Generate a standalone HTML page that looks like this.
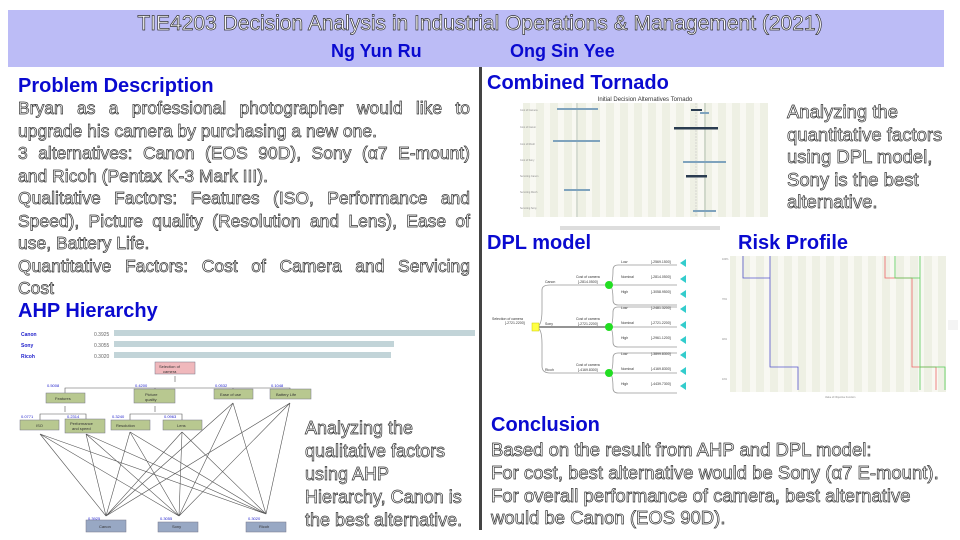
<!DOCTYPE html>
<html><head><meta charset="utf-8"><style>
body{margin:0;width:960px;height:540px;background:#fff;position:relative;overflow:hidden;font-family:"Liberation Sans",sans-serif}
.a{position:absolute;white-space:nowrap}
.h{color:#0a0ad0;font-weight:bold;font-size:20px}
.o{color:#fff;-webkit-text-stroke:0.7px #333;}
.b{font-size:18px;line-height:22.5px}
.j{text-align:justify;text-align-last:justify;white-space:nowrap;overflow:visible}
</style></head><body>
<div class="a" style="left:8px;top:10px;width:936px;height:57px;background:#bcbcf6"></div>
<div class="a o" style="left:0;width:960px;text-align:center;top:12px;font-size:21px">TIE4203 Decision Analysis in Industrial Operations &amp; Management (2021)</div>
<div class="a" style="left:331px;top:41px;font-size:18px;font-weight:bold;color:#0a0ad0">Ng Yun Ru</div>
<div class="a" style="left:510px;top:41px;font-size:18px;font-weight:bold;color:#0a0ad0">Ong Sin Yee</div>
<div class="a" style="left:479px;top:67px;width:3px;height:463px;background:#444"></div>

<div class="a h" style="left:18px;top:75px">Problem Description</div>
<div class="a o b" style="left:18px;top:97px;width:452px;font-size:17.5px">
<div class="j">Bryan as a professional photographer would like to</div>
<div>upgrade his camera by purchasing a new one.</div>
<div class="j">3 alternatives: Canon (EOS 90D), Sony (α7 E-mount)</div>
<div>and Ricoh (Pentax K-3 Mark III).</div>
<div class="j">Qualitative Factors: Features (ISO, Performance and</div>
<div class="j">Speed), Picture quality (Resolution and Lens), Ease of</div>
<div>use, Battery Life.</div>
<div class="j">Quantitative Factors: Cost of Camera and Servicing</div>
<div>Cost</div>
</div>

<div class="a h" style="left:18px;top:300px">AHP Hierarchy</div>
<svg class="a" style="left:0;top:320px" width="480" height="220" font-family="Liberation Sans" font-size="5">
<text x="21" y="16" fill="#22c" font-weight="bold">Canon</text><text x="21" y="27" fill="#22c" font-weight="bold">Sony</text><text x="21" y="38" fill="#22c" font-weight="bold">Ricoh</text>
<text x="94" y="16" fill="#666">0.3925</text><text x="94" y="27" fill="#666">0.3055</text><text x="94" y="38" fill="#666">0.3020</text>
<rect x="114" y="10" width="361" height="6" fill="#c2d4d8"/><rect x="114" y="21" width="280" height="6" fill="#c2d4d8"/><rect x="114" y="32" width="277" height="6" fill="#c2d4d8"/>
<g stroke="#555" stroke-width="0.6" fill="none">
<path d="M175 56 L175 62 M65 73 L65 68 L290 68 L290 69 M155 69 L155 68 M233 69 L233 68 M65 68 L65 69"/>
<path d="M65 86 L65 92 M40 100 L40 94 L86 94 L86 99 M155 86 L155 92 M130 100 L130 94 L182 94 L182 100"/>
<path d="M40 114 L106 196 M40 114 L179 196 M40 114 L266 194 M86 114 L106 196 M86 114 L179 196 M86 114 L266 194 M130 112 L106 196 M130 112 L179 196 M130 112 L266 194 M182 112 L106 196 M182 112 L179 196 M182 112 L266 194 M233 83 L106 196 M233 83 L179 196 M233 83 L266 194 M290 83 L106 196 M290 83 L179 196 M290 83 L266 194"/>
</g>
<g stroke="#778" stroke-width="0.5">
<rect x="155" y="42" width="40" height="12" fill="#f0b8bc"/>
<rect x="46" y="73" width="39" height="10" fill="#b8c890"/><rect x="134" y="69" width="41" height="14" fill="#b8c890"/><rect x="214" y="69" width="39" height="10" fill="#b8c890"/><rect x="270" y="69" width="41" height="10" fill="#b8c890"/>
<rect x="20" y="100" width="39" height="10" fill="#b8c890"/><rect x="65" y="99" width="40" height="14" fill="#b8c890"/><rect x="111" y="100" width="39" height="10" fill="#b8c890"/><rect x="163" y="100" width="39" height="10" fill="#b8c890"/>
<rect x="86" y="200" width="40" height="12" fill="#98a8c4"/><rect x="158" y="202" width="40" height="10" fill="#98a8c4"/><rect x="246" y="202" width="40" height="10" fill="#98a8c4"/>
</g>
<g fill="#333" font-size="4"><text x="159" y="48">Selection of</text><text x="163" y="53">camera</text><text x="55" y="80">Features</text><text x="145" y="76">Picture</text><text x="145" y="81">quality</text><text x="220" y="76">Ease of use</text><text x="276" y="76">Battery Life</text><text x="36" y="107">ISO</text><text x="70" y="105">Performance</text><text x="72" y="110">and speed</text><text x="116" y="107">Resolution</text><text x="177" y="107">Lens</text><text x="99" y="208">Canon</text><text x="172" y="208">Sony</text><text x="259" y="208">Ricoh</text></g>
<g fill="#22c" font-size="4"><text x="47" y="67">0.5008</text><text x="135" y="67">0.4200</text><text x="215" y="67">0.0532</text><text x="271" y="67">0.1048</text><text x="21" y="98">0.0771</text><text x="67" y="98">0.2314</text><text x="112" y="98">0.3240</text><text x="164" y="98">0.0963</text><text x="88" y="200">0.3925</text><text x="160" y="200">0.3055</text><text x="248" y="200">0.3020</text></g>
</svg>
<div class="a o b" style="left:305px;top:417px;font-size:18px;line-height:23px">Analyzing the<br>qualitative factors<br>using AHP<br>Hierarchy, Canon is<br>the best alternative.</div>

<div class="a h" style="left:487px;top:72px">Combined Tornado</div>
<svg class="a" style="left:520px;top:95px" width="250" height="140" font-family="Liberation Sans">
<text x="125" y="6" font-size="6" text-anchor="middle" fill="#333">Initial Decision Alternatives Tornado</text>
<rect x="3" y="8" width="245" height="114" fill="#eef0e4"/>
<g fill="#f8f8f2"><rect x="10" y="8" width="6" height="114"/><rect x="24" y="8" width="6" height="114"/><rect x="38" y="8" width="6" height="114"/><rect x="52" y="8" width="6" height="114"/><rect x="66" y="8" width="6" height="114"/><rect x="80" y="8" width="6" height="114"/><rect x="94" y="8" width="6" height="114"/><rect x="108" y="8" width="6" height="114"/><rect x="122" y="8" width="6" height="114"/><rect x="136" y="8" width="6" height="114"/><rect x="150" y="8" width="6" height="114"/><rect x="164" y="8" width="6" height="114"/><rect x="178" y="8" width="6" height="114"/><rect x="192" y="8" width="6" height="114"/><rect x="206" y="8" width="6" height="114"/><rect x="220" y="8" width="6" height="114"/><rect x="234" y="8" width="6" height="114"/></g>
<line x1="57" y1="8" x2="57" y2="122" stroke="#9a9" stroke-width="0.7"/><line x1="185" y1="8" x2="185" y2="122" stroke="#9a9" stroke-width="0.7"/><line x1="176" y1="8" x2="176" y2="122" stroke="#bbb" stroke-width="0.5" stroke-dasharray="2 1"/>
<g fill="#7fa3bd"><rect x="37" y="13" width="41" height="2"/><rect x="180" y="17" width="9" height="2"/><rect x="33" y="45" width="47" height="2"/><rect x="163" y="66" width="43" height="2"/><rect x="44" y="94" width="26" height="2"/><rect x="173" y="115" width="23" height="2"/></g>
<g fill="#2a3c50"><rect x="171" y="14" width="11" height="2"/><rect x="154" y="32" width="44" height="2.5"/><rect x="166" y="80" width="21" height="2.5"/></g>
<g fill="#888" font-size="2.5"><text x="0" y="16">Cost of Camera</text><text x="0" y="33">Cost of Canon</text><text x="0" y="50">Cost of Ricoh</text><text x="0" y="66">Cost of Sony</text><text x="0" y="82">Servicing Canon</text><text x="0" y="98">Servicing Ricoh</text><text x="0" y="114">Servicing Sony</text></g>
<rect x="40" y="131" width="160" height="4" fill="#ddd"/>
</svg>
<div class="a o b" style="left:787px;top:101px;font-size:18.5px;line-height:22.5px">Analyzing the<br>quantitative factors<br>using DPL model,<br>Sony is the best<br>alternative.</div>

<div class="a h" style="left:487px;top:232px">DPL model</div>
<div class="a h" style="left:738px;top:232px">Risk Profile</div>
<svg class="a" style="left:480px;top:250px" width="230" height="150" font-family="Liberation Sans" font-size="3.5" fill="#333">
<g stroke="#999" stroke-width="0.8" fill="none">
<path d="M56 77 Q62 77 62 60 L62 40 Q62 35 70 35 L129 35"/><path d="M56 77 L129 77" stroke="#555" stroke-width="1.2"/><path d="M56 77 Q62 77 62 94 L62 116 Q62 123 70 123 L129 123"/>
<path d="M129 35 Q133 35 133 20 Q133 15 138 15 L197 15 M129 35 L197 35 M129 35 Q133 35 133 50 Q133 55 138 55 L197 55"/>
<path d="M129 77 Q133 77 133 62 Q133 57 138 57 L197 57 M129 77 L197 77 M129 77 Q133 77 133 92 Q133 97 138 97 L197 97"/>
<path d="M129 123 Q133 123 133 108 Q133 103 138 103 L197 103 M129 123 L197 123 M129 123 Q133 123 133 138 Q133 143 138 143 L197 143"/>
</g>
<rect x="52" y="73" width="7" height="8" fill="#ff4" stroke="#cc0" stroke-width="0.5"/>
<circle cx="129" cy="35" r="4" fill="#2d2"/><circle cx="129" cy="77" r="4" fill="#2d2"/><circle cx="129" cy="123" r="4" fill="#2d2"/>
<g fill="#3cc"><path d="M206 9 L200 13 L206 17Z"/><path d="M206 25 L200 29 L206 33Z"/><path d="M206 40 L200 44 L206 48Z"/><path d="M206 55 L200 59 L206 63Z"/><path d="M206 71 L200 75 L206 79Z"/><path d="M206 86 L200 90 L206 94Z"/><path d="M206 101 L200 105 L206 109Z"/><path d="M206 117 L200 121 L206 125Z"/><path d="M206 132 L200 136 L206 140Z"/></g>
<text x="12" y="70">Selection of camera</text><text x="25" y="74">[-2721.2200]</text><text x="65" y="33">Canon</text><text x="65" y="75">Sony</text><text x="65" y="121">Ricoh</text>
<text x="96" y="28">Cost of camera</text><text x="98" y="33">[-2814.0500]</text><text x="96" y="70">Cost of camera</text><text x="98" y="75">[-2721.2200]</text><text x="96" y="116">Cost of camera</text><text x="98" y="121">[-4169.8300]</text>
<text x="141" y="13">Low</text><text x="141" y="28">Nominal</text><text x="141" y="43">High</text><text x="141" y="59">Low</text><text x="141" y="74">Nominal</text><text x="141" y="89">High</text><text x="141" y="105">Low</text><text x="141" y="120">Nominal</text><text x="141" y="135">High</text>
<text x="171" y="13">[-2569.1500]</text><text x="171" y="28">[-2814.0500]</text><text x="171" y="43">[-3058.9500]</text><text x="171" y="59">[-2481.3200]</text><text x="171" y="74">[-2721.2200]</text><text x="171" y="89">[-2961.1200]</text><text x="171" y="105">[-3899.8300]</text><text x="171" y="120">[-4169.8300]</text><text x="171" y="135">[-4439.7300]</text>
<text x="45" y="169" font-size="2.5" fill="#888">Licensed by Syncopation Software for educational and non-commercial research purposes only</text>
</svg>
<svg class="a" style="left:720px;top:250px" width="240" height="150" font-family="Liberation Sans">
<rect x="10" y="6" width="216" height="136" fill="#eef0e4"/>
<g fill="#f8f8f2"><rect x="16" y="6" width="6" height="136"/><rect x="30" y="6" width="6" height="136"/><rect x="44" y="6" width="6" height="136"/><rect x="58" y="6" width="6" height="136"/><rect x="72" y="6" width="6" height="136"/><rect x="86" y="6" width="6" height="136"/><rect x="100" y="6" width="6" height="136"/><rect x="114" y="6" width="6" height="136"/><rect x="128" y="6" width="6" height="136"/><rect x="142" y="6" width="6" height="136"/><rect x="156" y="6" width="6" height="136"/><rect x="170" y="6" width="6" height="136"/><rect x="184" y="6" width="6" height="136"/><rect x="198" y="6" width="6" height="136"/><rect x="212" y="6" width="6" height="136"/></g>
<g fill="none" stroke-width="0.8">
<path d="M23 6 L23 28 L50 28 L50 6 M50 28 L50 117 L78 117 L78 140" stroke="#55c"/>
<path d="M165 6 L165 28 L192 28 L192 117 L216 117 L216 140" stroke="#e66"/>
<path d="M175 6 L175 28 L200 28 L200 117 L225 117 L225 140 M200 6 L200 140" stroke="#5c5"/>
</g>
<g fill="#888" font-size="2.5"><text x="2" y="10">100%</text><text x="2" y="50">70%</text><text x="2" y="90">40%</text><text x="2" y="130">10%</text><text x="105" y="148">Value of Objective Function</text></g>
<rect x="228" y="70" width="10" height="10" fill="#f4f4f4"/>
</svg>

<div class="a h" style="left:491px;top:414px">Conclusion</div>
<div class="a o" style="left:491px;top:439px;font-size:18.5px;line-height:22.8px">Based on the result from AHP and DPL model:<br>For cost, best alternative would be Sony (α7 E-mount).<br>For overall performance of camera, best alternative<br>would be Canon (EOS 90D).</div>
</body></html>
